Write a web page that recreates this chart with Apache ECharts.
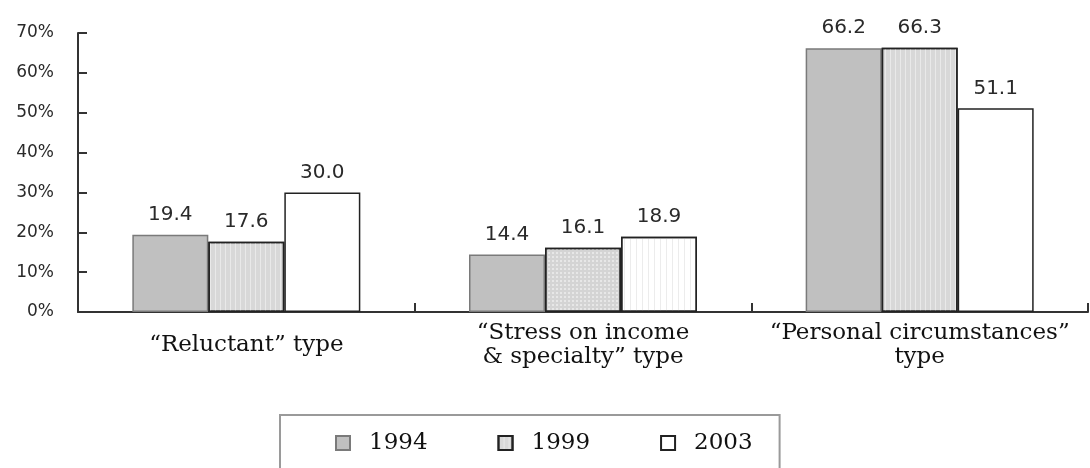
<!DOCTYPE html>
<html>
<head>
<meta charset="utf-8">
<script src="https://cdn.jsdelivr.net/npm/echarts@6/dist/echarts.min.js"></script>
<style>
html,body{margin:0;padding:0;background:#fff;}
#c{width:1090px;height:468px;}
</style>
</head>
<body>
<div id="c"></div>
<script>
var categories = ['\u201cReluctant\u201d type', '\u201cStress on income\n& specialty\u201d type', '\u201cPersonal circumstances\u201d\ntype'];
var seriesNames = ['1994', '1999', '2003'];
var values1994 = [19.4, 14.4, 66.2];
var values1999 = [17.6, 16.1, 66.3];
var values2003 = [30.0, 18.9, 51.1];
var yTicks = [0, 10, 20, 30, 40, 50, 60, 70];

var stripeDecal = {symbol:'rect', symbolSize:1, dashArrayX:[1,4], dashArrayY:[4,0], color:'rgba(255,255,255,0.45)', rotation:0};
var gridDecal = {symbol:'rect', symbolSize:1, dashArrayX:[2,2], dashArrayY:[2,2], color:'rgba(255,255,255,0.45)', rotation:0};
var faintStripe = {symbol:'rect', symbolSize:1, dashArrayX:[1,5], dashArrayY:[4,0], color:'rgba(200,200,200,0.35)', rotation:0};

function mk(vals, styleFor){
  return vals.map(function(v,i){ var s = styleFor(i); return s ? {value:v, itemStyle:s} : v; });
}

var labelCfg = {show:true, position:'top', distance:10, fontFamily:'DejaVu Sans', fontSize:20, color:'#2a2a2a', formatter:function(p){return p.value.toFixed(1);}};

var chart = echarts.init(document.getElementById('c'), null, {renderer:'canvas'});
chart.setOption({
  backgroundColor:'#fff',
  animation:false,
  grid:{left:78, right:2, top:33, bottom:156, containLabel:false},
  legend:{
    data:seriesNames,
    left:280, top:415,
    orient:'horizontal',
    icon:'rect',
    itemWidth:14, itemHeight:14,
    itemGap:70,
    borderColor:'#9a9a9a', borderWidth:2,
    padding:[16,27,40,55],
    textStyle:{fontFamily:'DejaVu Serif', fontSize:23, color:'#111', lineHeight:24, padding:[0,0,0,14]}
  },
  xAxis:{
    type:'category',
    data:categories,
    boundaryGap:true,
    axisLine:{lineStyle:{color:'#333', width:2}},
    axisTick:{show:true, inside:true, length:9, lineStyle:{color:'#333', width:2}},
    axisLabel:{fontFamily:'DejaVu Serif', fontSize:23, color:'#111', lineHeight:24, margin:33, verticalAlign:'middle', align:'center', interval:0}
  },
  yAxis:{
    type:'value', min:yTicks[0], max:yTicks[yTicks.length-1], interval:10,
    splitLine:{show:false},
    axisLine:{show:true, lineStyle:{color:'#333', width:2}},
    axisTick:{show:true, inside:true, length:9, lineStyle:{color:'#333', width:2}},
    axisLabel:{formatter:'{value}%', fontFamily:'DejaVu Sans', fontSize:17, color:'#2a2a2a', margin:24}
  },
  series:[
    {name:seriesNames[0], type:'bar', barWidth:76, barGap:'0%',
     itemStyle:{color:'#c0c0c0', borderColor:'#7a7a7a', borderWidth:1.5},
     label:labelCfg, data:values1994},
    {name:seriesNames[1], type:'bar', barWidth:76, barGap:'0%',
     itemStyle:{color:'#d8d8d8', borderColor:'#222', borderWidth:1.5, decal:stripeDecal},
     label:labelCfg,
     data:mk(values1999, function(i){ return i===1 ? {color:'#d4d4d4', borderColor:'#222', borderWidth:1.5, decal:gridDecal} : null; })},
    {name:seriesNames[2], type:'bar', barWidth:76, barGap:'0%',
     itemStyle:{color:'#ffffff', borderColor:'#222', borderWidth:1.5},
     label:labelCfg,
     data:mk(values2003, function(i){ return i===1 ? {color:'#ffffff', borderColor:'#222', borderWidth:1.5, decal:faintStripe} : null; })}
  ]
});
</script>
</body>
</html>
